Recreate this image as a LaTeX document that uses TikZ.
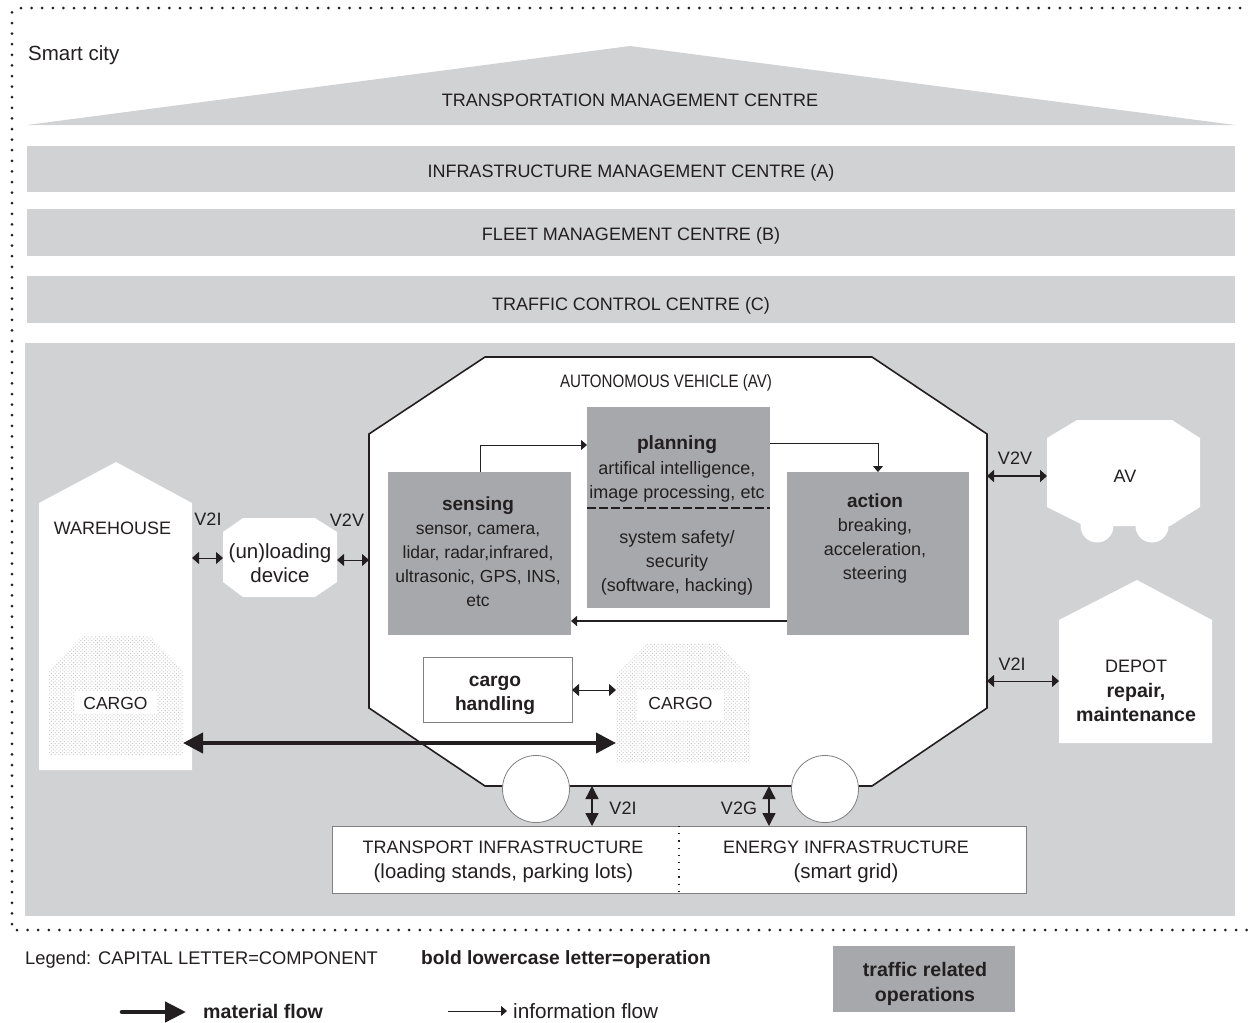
\documentclass[tikz,border=0pt]{standalone}
\usepackage{fontspec}
\setmainfont{Liberation Sans}
\usetikzlibrary{arrows.meta,patterns.meta}
\definecolor{panel}{HTML}{D1D2D4}
\definecolor{band}{HTML}{D1D2D4}
\definecolor{opgray}{HTML}{A6A8AB}
\definecolor{ink}{HTML}{231F20}
\tikzset{
  txt/.style={text=ink,font=\fontsize{18}{24}\selectfont,align=center,inner sep=0pt},
  txs/.style={text=ink,font=\fontsize{#1}{24}\selectfont,align=center,inner sep=0pt},
  bts/.style={text=ink,font=\fontsize{#1}{24}\selectfont\bfseries,align=center,inner sep=0pt},
  region/.style 2 args={minimum width=#1pt,minimum height=#2pt,inner sep=0pt,outer sep=0pt,txt},
  op/.style={fill=opgray},
  info/.style={draw=ink,line width=.9pt,-{Triangle[length=6pt,width=10pt]}},
  infob/.style={draw=ink,line width=1.5pt,-{Triangle[length=6pt,width=10pt]}},
  info2/.style={draw=ink,line width=1pt,{Triangle[length=7pt,width=12pt]}-{Triangle[length=7pt,width=12pt]}},
  thin2/.style={draw=ink,line width=1.6pt,{Triangle[length=7pt,width=12pt]}-{Triangle[length=7pt,width=12pt]}},
  vert2/.style={draw=ink,line width=1.4pt,{Triangle[length=13pt,width=13pt]}-{Triangle[length=13pt,width=13pt]}},
  fat2/.style={draw=ink,line width=4pt,{Triangle[length=20pt,width=20pt]}-{Triangle[length=20pt,width=20pt]}},
  dots/.style={ink,line width=3pt,line cap=round,dash pattern=on 0pt off 10.6pt},
  stipple/.style={fill=white,postaction={pattern={Dots[radius=0.7pt,distance=2.6pt,angle=45]},pattern color=black!22}},
}
\begin{document}
\begin{tikzpicture}[x=1pt,y=-1pt]
\useasboundingbox (0,0) rectangle (1248,1023);
\fill[white] (0,0) rectangle (1248,1023);
% frame
\draw[dots] (12,924) -- (12,8);
\draw[dots] (21,8) -- (1248,8);
\draw[dots] (17,930) -- (1248,930);
\node[txs=20.5,anchor=west] (smart) at (28,55) {Smart city};
% bands
\fill[band] (27,125) -- (630,46) -- (1235,125) -- cycle;
\node[txt] (tmc) at (630,100) {TRANSPORTATION MANAGEMENT CENTRE};
\node[region={1208}{46},fill=band] (ima) at (631,169) {};
\node[txt] at (631,173) {INFRASTRUCTURE MANAGEMENT CENTRE (A)};
\node[region={1208}{47},fill=band] (fmb) at (631,232.5) {};
\node[txt] at (631,236) {FLEET MANAGEMENT CENTRE (B)};
\node[region={1208}{47},fill=band] (tcc) at (631,299.5) {};
\node[txt] at (631,306) {TRAFFIC CONTROL CENTRE (C)};
\fill[panel] (25,343) rectangle (1235,916);
% AV
\node[region={618}{429}] (av) at (678,571.5) {};
\filldraw[fill=white,draw=ink,line width=1.6pt] (369,434) -- (485,357) -- (872,357) -- (987,434) -- (987,708) -- (872,786) -- (485,786) -- (369,708) -- cycle;
\node[txt] (avt) at (666,383) {\scalebox{.84}[1]{AUTONOMOUS VEHICLE (AV)}};
\filldraw[fill=white,draw=gray,line width=.8pt] (536,789) circle (33.5);
\filldraw[fill=white,draw=gray,line width=.8pt] (825,789) circle (33.5);
% ops
\node[region={183}{163},op] (sens) at (479.5,553.5) {};
\node[region={183}{201},op] (plan) at (678.5,507.5) {};
\node[region={182}{163},op] (act) at (878,553.5) {};
\node[bts=19] at (478,506) {sensing};
\node[txs=17.5] at (478,566) {sensor, camera,\\lidar, radar,infrared,\\ultrasonic, GPS, INS,\\etc};
\node[bts=19.2] at (677,445) {planning};
\node[txt] at (677,482) {artifical intelligence,\\image processing, etc};
\node[txt] at (677,563) {system safety/\\security\\(software, hacking)};
\draw[ink,line width=1.4pt,dash pattern=on 9pt off 3pt] (plan.west |- 0,508) -- (plan.east |- 0,508);
\node[bts=19] at (875,501) {action};
\node[txt] at (875,551) {breaking,\\acceleration,\\steering};
\draw[info] (sens.north -| 480,0) |- (plan.west |- 0,445);
\draw[info] (plan.east |- 0,443) -| (act.north -| 878,0);
\draw[infob] (act.west |- 0,621) -- (sens.east |- 0,621);
% cargo handling
\node[region={149}{65},draw=gray,line width=.8pt,fill=white] (ch) at (497.5,689.5) {};
\node[bts=19.2] at (495,695) {cargo\\handling};
\node[region={134}{119}] (cav) at (683,702.5) {};
\path[stipple] (616,675) -- (648,643) -- (717,643) -- (750,675) -- (750,762) -- (616,762) -- cycle;
\node[region={87}{30},fill=white] (cavl) at (680.5,705) {};
\node[txs=17.5] at (680.5,703) {CARGO};
\draw[info2] (ch.east |- 0,690) -- (cav.west |- 0,690);
% warehouse
\node[region={153}{308}] (wh) at (115.5,616) {};
\fill[white] (39,503) -- (116,462) -- (192,503) -- (192,770) -- (39,770) -- cycle;
\node[txt] at (112.5,528) {WAREHOUSE};
\node[region={134}{119}] (cwh) at (116,695.5) {};
\path[stipple] (49,670) -- (82,636) -- (150,636) -- (183,670) -- (183,755) -- (49,755) -- cycle;
\node[region={82}{23},fill=white] (cwhl) at (116,702) {};
\node[txs=17.5] at (115.5,703) {CARGO};
\draw[fat2] (cwh.east |- 0,743) -- (cav.west |- 0,743);
% unloading
\node[region={114}{79}] (ul) at (280,557.5) {};
\fill[white] (223,532) -- (243,518) -- (315,518) -- (337,532) -- (337,582) -- (315,597) -- (243,597) -- (223,582) -- cycle;
\node[txs=20.5] at (280,563) {(un)loading\\device};
\node[txt] at (208,519) {V2I};
\node[txt] at (347,520) {V2V};
\draw[info2] (wh.east |- 0,558) -- (ul.west |- 0,558);
\draw[info2] (ul.east |- 0,560) -- (av.west |- 0,560);
% AV small
\node[region={153}{106}] (av2) at (1123.5,473) {};
\fill[white] (1047,438) -- (1077,420) -- (1172,420) -- (1200,438) -- (1200,507) -- (1170,526) -- (1085,526) -- (1047,507) -- cycle;
\fill[white] (1097,526) circle (16.5);
\fill[white] (1152,526) circle (16.5);
\node[txt] at (1125,476) {AV};
\node[txt] at (1015,458) {V2V};
\draw[thin2] (av.east |- 0,476) -- (av2.west |- 0,476);
% depot
\node[region={153}{163}] (dep) at (1135.5,661.5) {};
\fill[white] (1059,620) -- (1137,580) -- (1212,620) -- (1212,743) -- (1059,743) -- cycle;
\node[txt] at (1136,666) {DEPOT};
\node[bts=19.6] at (1136,702) {repair,\\maintenance};
\node[txt] at (1012,664) {V2I};
\draw[info2] (av.east |- 0,681) -- (dep.west |- 0,681);
% infrastructure
\node[region={694}{67},draw=gray,line width=.8pt,fill=white] (inf) at (679,859.5) {};
\draw[ink,line width=1.2pt,dash pattern=on 1.2pt off 6pt] (inf.north) -- (inf.south);
\node[txt] at (503,847) {TRANSPORT INFRASTRUCTURE};
\node[txs=20.3] at (503.5,873) {(loading stands, parking lots)};
\node[txt] at (846,847) {ENERGY INFRASTRUCTURE};
\node[txs=20.5] at (846,873) {(smart grid)};
\draw[vert2] (av.south -| 592,0) -- (inf.north -| 592,0);
\draw[vert2] (av.south -| 769,0) -- (inf.north -| 769,0);
\node[txt] at (623,808) {V2I};
\node[txt] at (739,808) {V2G};
% legend
\node[txs=18.3,anchor=west] at (25,960) {Legend: CAPITAL LETTER=COMPONENT};
\node[bts=19.2,anchor=west] at (421,960) {bold lowercase letter=operation};
\node[region={182}{66},op] (lg) at (924,979) {};
\node[bts=19.6,align=center] at (925,984) {traffic related\\[1pt]operations};
\coordinate (m1) at (122,1012);
\coordinate (m2) at (186,1012);
\draw[draw=ink,line width=4.5pt,line cap=round,-{Triangle[length=21pt,width=20pt]}] (m1) -- (m2);
\node[bts=19.6,anchor=west] at (203,1011) {material flow};
\coordinate (i1) at (448,1011);
\coordinate (i2) at (507,1011);
\draw[info] (i1) -- (i2);
\node[txs=20.7,anchor=west] at (513,1011) {information flow};
\end{tikzpicture}
\end{document}
